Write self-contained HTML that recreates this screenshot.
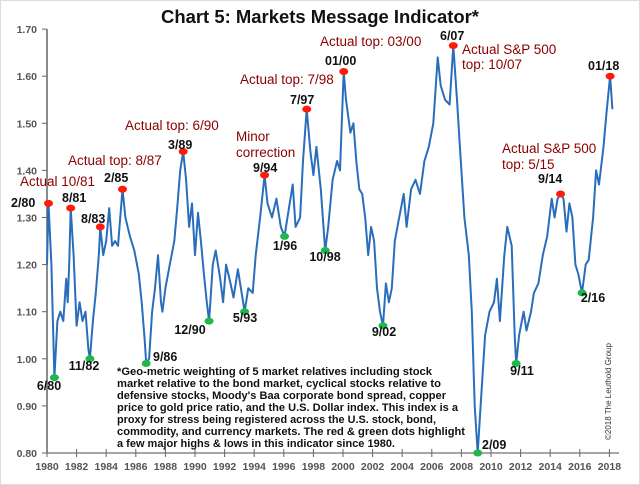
<!DOCTYPE html>
<html><head><meta charset="utf-8"><style>
html,body{margin:0;padding:0;background:#fff}
svg{display:block;font-family:"Liberation Sans",sans-serif}
.lab{font-weight:bold;font-size:12.5px;fill:#111}
.red{font-size:13.5px;fill:#8b0000}
.tick{font-size:10.5px;fill:#555;font-weight:bold}
.note{font-size:11px;font-weight:bold;fill:#111}
</style></head><body>
<svg id="chart" width="640" height="485">
<rect x="0.5" y="0.5" width="639" height="484" fill="#fff" stroke="#ddd"/>
<text x="320" y="23" text-anchor="middle" font-size="18" font-weight="bold" fill="#111" textLength="318" lengthAdjust="spacingAndGlyphs">Chart 5: Markets Message Indicator*</text>
<g id="axes"></g>
<g id="series"></g>
<g id="dots"></g>
<g>
<text class="red" x="20" y="186">Actual 10/81</text>
<text class="lab" x="11" y="207">2/80</text>
<text class="lab" x="62" y="202">8/81</text>
<text class="lab" x="81" y="223">8/83</text>
<text class="red" x="68" y="165">Actual top: 8/87</text>
<text class="lab" x="104" y="182">2/85</text>
<text class="red" x="125" y="130">Actual top: 6/90</text>
<text class="lab" x="168" y="149">3/89</text>
<text class="red" x="236" y="141">Minor</text>
<text class="red" x="236" y="157">correction</text>
<text class="lab" x="253" y="172">9/94</text>
<text class="red" x="240" y="84">Actual top: 7/98</text>
<text class="lab" x="290" y="104">7/97</text>
<text class="red" x="320" y="46">Actual top: 03/00</text>
<text class="lab" x="325" y="65">01/00</text>
<text class="lab" x="440" y="40">6/07</text>
<text class="red" x="462" y="54">Actual S&amp;P 500</text>
<text class="red" x="462" y="69">top: 10/07</text>
<text class="lab" x="588" y="70">01/18</text>
<text class="red" x="502" y="153">Actual S&amp;P 500</text>
<text class="red" x="502" y="169">top: 5/15</text>
<text class="lab" x="538" y="183">9/14</text>
<text class="lab" x="49" y="390" text-anchor="middle">6/80</text>
<text class="lab" x="84" y="370" text-anchor="middle">11/82</text>
<text class="lab" x="153" y="361">9/86</text>
<text class="lab" x="190" y="334" text-anchor="middle">12/90</text>
<text class="lab" x="245" y="322" text-anchor="middle">5/93</text>
<text class="lab" x="285" y="250" text-anchor="middle">1/96</text>
<text class="lab" x="325" y="261" text-anchor="middle">10/98</text>
<text class="lab" x="384" y="336" text-anchor="middle">9/02</text>
<text class="lab" x="482" y="449">2/09</text>
<text class="lab" x="522" y="375" text-anchor="middle">9/11</text>
<text class="lab" x="593" y="302" text-anchor="middle">2/16</text>
</g>
<g>
<text class="note" x="117" y="375" textLength="315" lengthAdjust="spacingAndGlyphs">*Geo-metric weighting of 5 market relatives including stock</text>
<text class="note" x="117" y="387" textLength="324" lengthAdjust="spacingAndGlyphs">market relative to the bond market, cyclical stocks relative to</text>
<text class="note" x="117" y="399" textLength="329" lengthAdjust="spacingAndGlyphs">defensive stocks, Moody's Baa corporate bond spread, copper</text>
<text class="note" x="117" y="411" textLength="341" lengthAdjust="spacingAndGlyphs">price to gold price ratio, and the U.S. Dollar index. This index is a</text>
<text class="note" x="117" y="423" textLength="319" lengthAdjust="spacingAndGlyphs">proxy for stress being registered across the U.S. stock, bond,</text>
<text class="note" x="117" y="435" textLength="348" lengthAdjust="spacingAndGlyphs">commodity, and currency markets. The red &amp; green dots highlight</text>
<text class="note" x="117" y="447" textLength="278" lengthAdjust="spacingAndGlyphs">a few major highs &amp; lows in this indicator since 1980.</text>
</g>
<text transform="translate(611,440) rotate(-90)" font-size="8" fill="#333">©2018 The Leuthold Group</text>
</svg>
<script>
const years=[1980.0,1980.1,1980.3,1980.5,1980.7,1980.9,1981.1,1981.3,1981.4,1981.5,1981.6,1981.8,1982.0,1982.2,1982.4,1982.6,1982.8,1982.9,1983.1,1983.3,1983.5,1983.6,1983.8,1984.0,1984.2,1984.4,1984.6,1984.8,1985.1,1985.3,1985.6,1985.9,1986.2,1986.4,1986.6,1986.7,1986.9,1987.1,1987.3,1987.5,1987.7,1987.8,1988.0,1988.3,1988.6,1988.8,1989.0,1989.2,1989.4,1989.6,1989.8,1990.0,1990.2,1990.4,1990.6,1990.8,1990.95,1991.2,1991.4,1991.7,1991.9,1992.1,1992.4,1992.6,1992.9,1993.1,1993.35,1993.6,1993.9,1994.1,1994.4,1994.7,1994.9,1995.2,1995.5,1995.8,1996.05,1996.3,1996.6,1996.8,1997.1,1997.3,1997.55,1997.8,1998.0,1998.2,1998.5,1998.8,1999.0,1999.3,1999.6,1999.8,2000.05,2000.2,2000.5,2000.7,2000.9,2001.1,2001.3,2001.5,2001.7,2001.9,2002.1,2002.3,2002.5,2002.7,2002.9,2003.1,2003.3,2003.5,2003.8,2004.1,2004.3,2004.6,2004.9,2005.2,2005.5,2005.8,2006.1,2006.4,2006.6,2006.9,2007.2,2007.45,2007.7,2007.9,2008.2,2008.5,2008.7,2008.9,2009.1,2009.3,2009.6,2009.9,2010.2,2010.4,2010.6,2010.9,2011.1,2011.4,2011.6,2011.7,2011.9,2012.2,2012.4,2012.7,2012.9,2013.2,2013.5,2013.8,2014.1,2014.3,2014.5,2014.7,2014.9,2015.1,2015.3,2015.5,2015.7,2015.9,2016.15,2016.4,2016.6,2016.9,2017.1,2017.3,2017.6,2017.8,2018.05,2018.2];
const values=[1.20,1.33,1.20,0.96,1.08,1.10,1.08,1.17,1.12,1.20,1.32,1.22,1.07,1.12,1.08,1.10,1.02,1.00,1.08,1.14,1.22,1.28,1.22,1.25,1.32,1.24,1.25,1.24,1.36,1.30,1.26,1.23,1.18,1.12,1.04,0.99,1.00,1.10,1.15,1.22,1.12,1.10,1.15,1.20,1.25,1.32,1.40,1.44,1.38,1.28,1.33,1.22,1.31,1.25,1.18,1.12,1.08,1.20,1.23,1.17,1.12,1.20,1.16,1.13,1.19,1.15,1.10,1.15,1.14,1.22,1.30,1.39,1.33,1.30,1.34,1.28,1.26,1.31,1.37,1.28,1.30,1.42,1.53,1.44,1.39,1.45,1.36,1.23,1.28,1.38,1.42,1.40,1.61,1.55,1.48,1.50,1.42,1.36,1.35,1.30,1.22,1.28,1.25,1.15,1.10,1.07,1.16,1.12,1.15,1.25,1.30,1.35,1.28,1.36,1.38,1.35,1.42,1.45,1.50,1.64,1.58,1.55,1.54,1.665,1.55,1.45,1.30,1.22,1.10,0.90,0.80,0.90,1.05,1.10,1.12,1.17,1.08,1.22,1.28,1.24,1.05,0.99,1.05,1.10,1.06,1.10,1.14,1.16,1.22,1.26,1.34,1.30,1.34,1.35,1.34,1.27,1.33,1.30,1.20,1.18,1.14,1.20,1.21,1.30,1.40,1.37,1.45,1.52,1.60,1.53];
const peakYears=[1980.1,1981.6,1983.6,1985.1,1989.2,1994.7,1997.55,2000.05,2007.45,2014.7,2018.05];
const peakValues=[1.33,1.32,1.28,1.36,1.44,1.39,1.53,1.61,1.665,1.35,1.60];
const troughYears=[1980.5,1982.9,1986.7,1990.95,1993.35,1996.05,1998.8,2002.7,2009.1,2011.7,2016.15];
const troughValues=[0.96,1.00,0.99,1.08,1.10,1.26,1.23,1.07,0.80,0.99,1.14];
const yTicks=[0.80,0.90,1.00,1.10,1.20,1.30,1.40,1.50,1.60,1.70];
const xTicks=[1980,1982,1984,1986,1988,1990,1992,1994,1996,1998,2000,2002,2004,2006,2008,2010,2012,2014,2016,2018];

const NS="http://www.w3.org/2000/svg";
const xs=y=>47+(y-1980)*14.8;
const ys=v=>453-(v-0.8)*471;
function mk(tag,attrs,parent){const e=document.createElementNS(NS,tag);for(const k in attrs)e.setAttribute(k,attrs[k]);parent.appendChild(e);return e;}
const axes=document.getElementById('axes');
let yl=mk('line',{x1:47,y1:ys(1.7),x2:47,y2:453,stroke:'#666','stroke-width':1.5},axes);


let xl=mk('line',{x1:47,y1:453,x2:619,y2:453,stroke:'#888','stroke-width':1.5},axes);


yTicks.forEach(v=>{
  mk('line',{x1:42,x2:47,y1:ys(v),y2:ys(v),stroke:'#666'},axes);
  const t=mk('text',{x:37,y:ys(v)+4,'text-anchor':'end',class:'tick'},axes);
  t.textContent=v.toFixed(2);
  
  
});
xTicks.forEach(y=>{
  mk('line',{x1:xs(y),x2:xs(y),y1:449,y2:457,stroke:'#666'},axes);
  const t=mk('text',{x:xs(y),y:470,'text-anchor':'middle',class:'tick'},axes);
  t.textContent=y;
  
  
});
const pts=years.map((y,i)=>xs(y).toFixed(1)+','+ys(values[i]).toFixed(1)).join(' ');
const line=mk('polyline',{points:pts,fill:'none',stroke:'#2a6ebb','stroke-width':2,'stroke-linejoin':'round'},document.getElementById('series'));


const dots=document.getElementById('dots');
peakYears.forEach((y,i)=>{
  const c=mk('ellipse',{cx:xs(y),cy:ys(peakValues[i]),rx:4.5,ry:3.5,fill:'#ff1a0a'},dots);
  
  
});
troughYears.forEach((y,i)=>{
  const c=mk('ellipse',{cx:xs(y),cy:ys(troughValues[i]),rx:4.5,ry:3.5,fill:'#1fb84a'},dots);
  
  
});
</script>
</body></html>
